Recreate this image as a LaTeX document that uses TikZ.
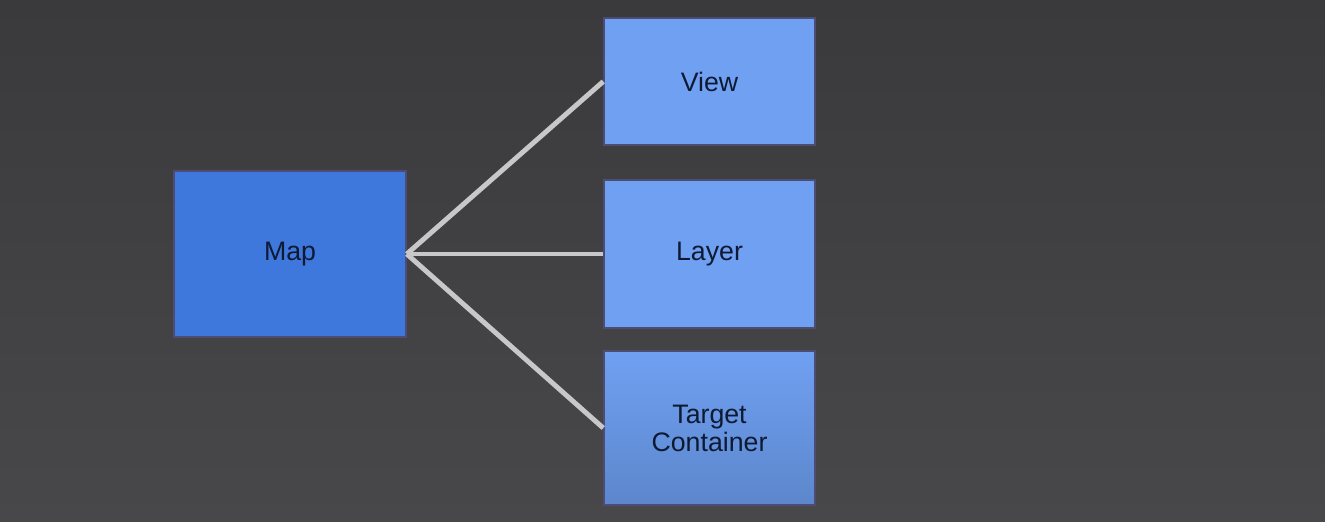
\documentclass[tikz,border=0pt]{standalone}
\usepackage{fontspec}
\setmainfont{Liberation Sans}
\usetikzlibrary{positioning}

\definecolor{bgTop}{HTML}{3A393C}
\definecolor{bgBottom}{HTML}{48474A}
\definecolor{mapBlue}{HTML}{3F78DC}
\definecolor{partBlue}{HTML}{70A0F2}
\definecolor{partBlueDark}{HTML}{5C87CC}
\definecolor{edgeGray}{HTML}{C8C8C8}
\definecolor{textNavy}{HTML}{0E1A33}

\begin{document}
\begin{tikzpicture}
[lineDecorate/.style={-,line width=1.4pt,edgeGray},%
  boxDecorate/.style={shape=rectangle,draw=black!60!blue!40!gray,line width=0.4pt,
    text=textNavy,align=center,inner sep=0pt,font=\fontsize{7.6}{8.0}\selectfont},%
  x=0.01cm,y=-0.01cm]
%% background
\shade[top color=bgTop,bottom color=bgBottom] (0,0) rectangle (1325,521);
\useasboundingbox (0,0) rectangle (1325,521);
%% nodes or boxes
\node (map) at (290,254) [boxDecorate,fill=mapBlue,
  minimum width=2.32cm,minimum height=1.66cm] {Map};
\foreach \nodename/\y/\h/\txt in {
  view/81.5/1.27/View, layer/254/1.48/Layer}
{
  \node (\nodename) at (709.5,\y) [boxDecorate,fill=partBlue,
    minimum width=2.11cm,minimum height=\h cm] {\txt};
}
\node (target) at (709.5,428) [boxDecorate,top color=partBlue,bottom color=partBlueDark,
  minimum width=2.11cm,minimum height=1.54cm] {Target\\Container};
%% edges or lines
\path
\foreach \endnode in {view, layer, target}
{
  (map.east) edge[lineDecorate] (\endnode.west)
};
\end{tikzpicture}
\end{document}
